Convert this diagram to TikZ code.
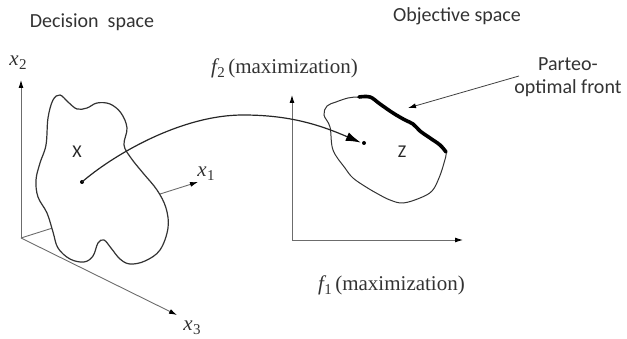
\documentclass[tikz,border=0pt]{standalone}
\usepackage{fontspec}
\setmainfont{Liberation Serif}
\newfontfamily\calib{Carlito}
\usetikzlibrary{arrows.meta}
\newcommand{\axlab}[2]{{\itshape #1}\kern0.3pt\raisebox{-0.4ex}{\fontsize{15}{15}\selectfont #2}}
\tikzset{
  axtip/.tip={Latex[length=8pt,width=5pt,color=black]},
  axis/.style={draw=gray!85!black, line width=0.9pt, -axtip},
  blob/.style={draw=black!80, line width=1.2pt, fill=white},
  dotnode/.style={circle, fill=black, inner sep=0pt, minimum size=4pt},
  sanslabel/.style={font=\calib\fontsize{20}{24}\selectfont, text=black!80, inner sep=0pt},
  seriflabel/.style={font=\fontsize{21}{24}\selectfont, text=black!80, inner sep=0pt},
  letterlabel/.style={font=\calib\fontsize{18}{20}\selectfont, text=black!85, inner sep=0pt},
}
\begin{document}
\begin{tikzpicture}[x=1pt,y=-1pt]
\useasboundingbox (0,0) rectangle (627,339);
% titles
\node[sanslabel] (dec) at (92,22) {Decision\ \ space};
\node[sanslabel] (obj) at (457,16) {Objective space};
\node[sanslabel, align=center] (par) at (568,77) {Parteo-\\[-1pt]optimal front};
% left axes
\coordinate (O) at (21,238);
\coordinate (x2t) at (21,80);
\coordinate (x1t) at (198,182);
\coordinate (x3t) at (177,315);
\draw[axis] (O) -- (x2t);
\draw[axis] (O) -- (x1t);
\draw[axis] (O) -- (x3t);
\node[seriflabel] (lx2) at (18,63) {\axlab{x}{2}};
\node[seriflabel] (lx1) at (206,174) {\axlab{x}{1}};
\node[seriflabel] (lx3) at (192,328) {\axlab{x}{3}};
% decision blob
\path[blob] plot[smooth cycle, tension=0.6] coordinates {
 (60,95) (68,102) (77,109) (87,108) (97,103) (110,104) (121,113) (127,128)
 (124,145) (131,158) (143,173) (157,190) (166,208) (168,228) (160,250)
 (145,261) (130,264) (120,259) (111,248) (104,240) (98,243) (93,256)
 (84,262) (70,259) (58,248) (53,232) (47,213) (38,197) (36,180) (40,163)
 (46,145) (48,118) (53,100)};
\node[letterlabel] (X) at (77,152) {X};
\node[dotnode] (dX) at (82,182) {};
% right axes
\coordinate (f2t) at (292,95);
\coordinate (fO) at (292,240);
\coordinate (f1t) at (463,240);
\draw[axis, axtip-axtip] (f2t) -- (fO) -- (f1t);
\node[seriflabel, anchor=west] (lf2) at (211,68) {\axlab{f}{2}\,(maximization)};
\node[seriflabel, anchor=west] (lf1) at (318,285) {\axlab{f}{1}\,(maximization)};
% objective blob
\draw[draw=black!80, line width=1pt] plot[smooth cycle, tension=0.6] coordinates {
 (358,97) (370,97) (380,104) (393,113) (405,120) (413,124) (420,131) (430,138)
 (440,145) (446,152) (444,163) (439,178) (432,191) (420,198) (403,203)
 (390,200) (378,194) (366,187) (353,178) (345,168) (333,150) (330,127)
 (324,115) (327,106) (336,102) (348,98)};
\draw[black, line width=3.6pt, line cap=round, line join=round] plot[smooth, tension=0.6] coordinates {
 (359,97) (370,97) (380,104) (393,113) (405,120) (413,124) (420,131) (430,138) (440,145) (446,152)};
\node[letterlabel] (Z) at (402,152) {Z};
\node[dotnode] (dZ) at (364,143) {};
% mapping arc
\draw[black!85, line width=1.2pt, -{Latex[length=15pt,width=9pt,color=black]}, shorten >=1pt]
  (dX.center) .. controls (112,156) and (180,115) .. (243,115)
  .. controls (290,115) and (320,125) .. (dZ.west);
% Pareto arrow
\coordinate (pa) at (519,76);
\coordinate (pb) at (408,108);
\draw[black!75, line width=0.8pt, -{Latex[length=8pt,width=5pt,color=black]}] (pa) -- (pb);
\end{tikzpicture}
\end{document}
